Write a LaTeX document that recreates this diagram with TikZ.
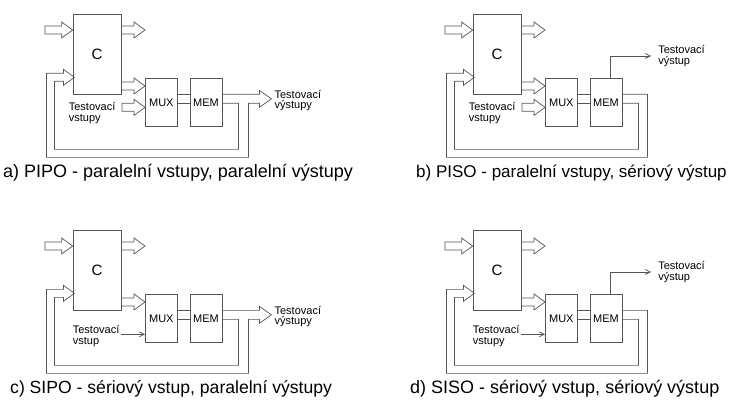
\documentclass[tikz,border=0pt]{standalone}
\usepackage{fontspec}
\setmainfont{Liberation Sans}
\usetikzlibrary{positioning,arrows.meta,calc}
\definecolor{wirec}{HTML}{555555}

\begin{document}
\begin{tikzpicture}[x=1pt, y=-1pt,
  box/.style={draw=wirec, line width=0.7pt, minimum width=32pt, minimum height=48pt, inner sep=0pt, font=\fontsize{11}{11}\selectfont},
  bus/.style={draw=wirec, line width=0.7pt, line join=miter},
  bus to/.style={to path={($(\tikztostart)+(0,-4)$) -- ($(\tikztotarget)+(-11,-4)$) -- ++(0,-4) -- (\tikztotarget) -- ++(-11,8) -- ++(0,-4) -- ($(\tikztostart)+(0,4)$) -- cycle}},
  wire/.style={draw=wirec, line width=0.7pt, -{Straight Barb[length=5pt,width=5pt]}},
  lab/.style={font=\fontsize{11}{10.5}\selectfont, align=left, inner sep=0pt},
  captext/.style={font=\fontsize{18}{20}\selectfont, anchor=base west, inner sep=0pt}]
  \useasboundingbox (0,0) rectangle (733,401);
  % common part of all four circuits
  \foreach \p/\dx/\dy in {a/0/0, b/400/0, c/0/216, d/400/216} {
    \begin{scope}[shift={(\dx,\dy)}]
      \node[box, minimum width=48pt, minimum height=80pt, font=\fontsize{15}{15}\selectfont] (C\p) at (97,54) {C};
      \node[box, anchor=north west] (mux\p) at (145,78) {MUX};
      \node[box, right=12pt of mux\p] (mem\p) {MEM};
      \coordinate (in\p) at (45,30);
      \coordinate (cm\p) at ($(mux\p.north west)+(0,8)$);
      \draw[bus] (in\p) to[bus to] (C\p.west |- in\p);
      \draw[bus] (C\p.east |- in\p) to[bus to] (mux\p.west |- in\p);
      \draw[bus] (C\p.east |- cm\p) to[bus to] (mux\p.west |- cm\p);
      \draw[bus] ($(mux\p.east)+(0,-8)$) -- ($(mem\p.west)+(0,-8)$) ($(mux\p.east)+(0,1)$) -- ($(mem\p.west)+(0,1)$);
    \end{scope}
  }
  % parallel outputs
  \foreach \p in {a,c} {
    \draw[bus] ($(mem\p.east)+(0,-8)$) -- ++(37,0) -- ++(0,-4) -- ++(12,8.5) -- ++(-12,8.5) -- ++(0,-4) -- ++(-11,0) -- ++(0,54) -- ++(-202,0) -- ++(0,-84) -- ++(17,0) -- ++(0,-4) -- ++(11,8) -- ++(-11,8) -- ++(0,-4) -- ++(-9,0) -- ++(0,68) -- ++(184,0) -- ++(0,-46) -- ($(mem\p.east)+(0,1)$);
    \node[lab, anchor=west] (tout\p) at ($(mem\p.east)+(52,-2)$) {Testovací\\výstupy};
  }
  % serial outputs
  \foreach \p in {b,d} {
    \draw[bus] ($(mem\p.east)+(0,-8)$) -- ++(25,0) -- ++(0,63) -- ++(-201,0) -- ++(0,-84) -- ++(17,0) -- ++(0,-4) -- ++(11,8) -- ++(-11,8) -- ++(0,-4) -- ++(-9,0) -- ++(0,68) -- ++(184,0) -- ++(0,-46) -- ($(mem\p.east)+(0,1)$);
    \coordinate (so\p) at ($(mem\p.north)+(45,-22)$);
    \draw[wire] ($(mem\p.north)+(4,0)$) |- (so\p);
    \node[lab, right=7pt of so\p] (tout\p) {Testovací\\výstup};
  }
  % parallel inputs
  \foreach \p in {a,b} {
    \coordinate (ti\p) at ($(mux\p.west)+(-23,5)$);
    \draw[bus] (ti\p) to[bus to] (mux\p.west |- ti\p);
    \node[lab, anchor=north west] (tin\p) at ($(C\p.south west)+(-4,8)$) {Testovací\\vstupy};
  }
  % serial inputs
  \foreach \p/\t in {c/vstup, d/vstupy} {
    \coordinate (ti\p) at ($(mux\p.west)+(-24,16)$);
    \draw[wire] (ti\p) -- (mux\p.west |- ti\p);
    \node[lab, anchor=north west] (tin\p) at ($(C\p.south west)+(0,15)$) {Testovací\\\t};
  }
  \node[captext] (capa) at (3,177) {a) PIPO - paralelní vstupy, paralelní výstupy};
  \node[captext, font=\fontsize{17}{20}\selectfont] (capb) at (416,177) {b) PISO - paralelní vstupy, sériový výstup};
  \node[captext, font=\fontsize{17.6}{20}\selectfont] (capc) at (10,393) {c) SIPO - sériový vstup, paralelní výstupy};
  \node[captext] (capd) at (410,393) {d) SISO - sériový vstup, sériový výstup};
\end{tikzpicture}
\end{document}
